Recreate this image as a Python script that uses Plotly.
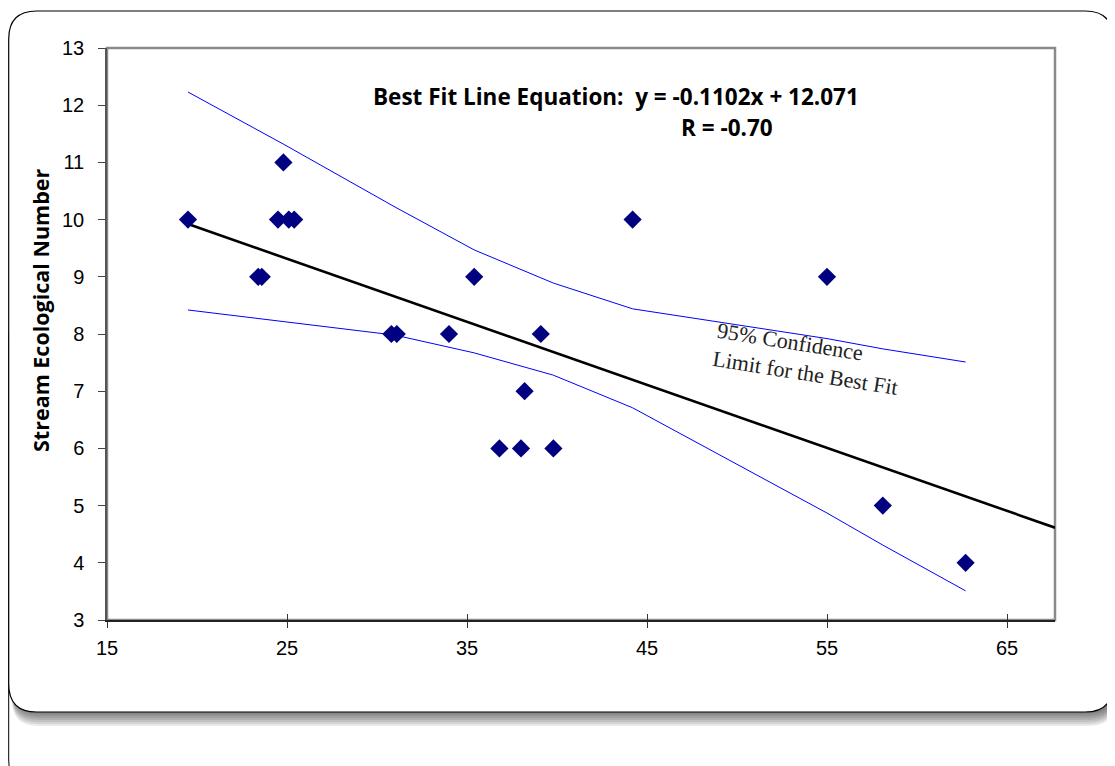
import plotly.graph_objects as go

# ---- data ----
x_vals = [19.5, 23.4, 23.6, 24.8, 24.5, 25.1, 25.4, 30.8, 31.1, 34.0,
          35.4, 36.8, 38.0, 38.2, 39.1, 39.8, 44.2, 55.0, 58.1, 62.7]
y_vals = [10, 9, 9, 11, 10, 10, 10, 8, 8, 8,
          9, 6, 6, 7, 8, 6, 10, 9, 5, 4]

fit_slope = -0.1102
fit_intercept = 12.071
fit_x = [19.5, 67.67]
fit_y = [fit_slope * v + fit_intercept for v in fit_x]

band_x = [19.5, 24.8, 31.0, 35.4, 39.8, 44.2, 55.0, 58.1, 62.7]
band_upper = [12.23, 11.32, 10.22, 9.47, 8.89, 8.44, 7.92, 7.74, 7.51]
band_lower = [8.42, 8.22, 7.98, 7.67, 7.28, 6.71, 4.87, 4.31, 3.51]

x_ticks = [15, 25, 35, 45, 55, 65]
y_ticks = [3, 4, 5, 6, 7, 8, 9, 10, 11, 12, 13]

# ---- layout geometry (page pixels; the page body has an 8px margin) ----
PAGE_W, PAGE_H = 1115, 766
OFF = 8
W, H = PAGE_W - OFF, PAGE_H - OFF
L, R, T, B = 107, 1055, 48, 620


def px(x):
    return (x - L) / (R - L)


def py(y):
    return (B - y) / (B - T)


def rr(x0, y0, x1, y1, r):
    pts = [
        ("M", [(x0 + r, y0)]), ("L", [(x1 - r, y0)]), ("Q", [(x1, y0), (x1, y0 + r)]),
        ("L", [(x1, y1 - r)]), ("Q", [(x1, y1), (x1 - r, y1)]),
        ("L", [(x0 + r, y1)]), ("Q", [(x0, y1), (x0, y1 - r)]),
        ("L", [(x0, y0 + r)]), ("Q", [(x0, y0), (x0 + r, y0)]),
    ]
    s = ""
    for cmd, ps in pts:
        s += cmd + " " + " ".join(f"{px(a):.5f},{py(b):.5f}" for a, b in ps) + " "
    return s + "Z"


shapes = []
# slide frame behind
shapes.append(dict(type="path", xref="paper", yref="paper", layer="below",
                   path=rr(8.7, 300, 1160, 800, 40),
                   line=dict(color="black", width=1), fillcolor="white"))
# shadow
for k in range(2, 15, 2):
    shapes.append(dict(type="path", xref="paper", yref="paper", layer="below",
                       path=rr(12, 30, 1115, 712 + k, 26),
                       line=dict(width=0), fillcolor="rgba(0,0,0,0.085)"))
# chart box
shapes.append(dict(type="path", xref="paper", yref="paper", layer="below",
                   path=rr(8.7, 11, 1113, 712, 28),
                   line=dict(color="black", width=1.2), fillcolor="white"))
# plot area border
shapes.append(dict(type="rect", xref="paper", yref="paper", layer="below",
                   x0=0, x1=1, y0=0, y1=1,
                   line=dict(color="#8a8a8a", width=2.5), fillcolor="white"))

fig = go.Figure()

fig.add_trace(go.Scatter(x=band_x, y=band_upper, mode="lines",
                         line=dict(color="#0000FF", width=1), showlegend=False,
                         hoverinfo="skip"))
fig.add_trace(go.Scatter(x=band_x, y=band_lower, mode="lines",
                         line=dict(color="#0000FF", width=1), showlegend=False,
                         hoverinfo="skip"))
fig.add_trace(go.Scatter(x=fit_x, y=fit_y, mode="lines",
                         line=dict(color="black", width=2.6), showlegend=False))
fig.add_trace(go.Scatter(x=x_vals, y=y_vals, mode="markers",
                         marker=dict(symbol="diamond", size=14, color="#000080",
                                     line=dict(width=0)),
                         showlegend=False))
# helper trace for the inner half of the x ticks
fig.add_trace(go.Scatter(x=[15], y=[3], xaxis="x2", mode="markers",
                         marker=dict(opacity=0), showlegend=False, hoverinfo="skip"))

tick_font = dict(family="Liberation Sans, Arial, sans-serif", size=20, color="black")
eq_font = dict(family="Open Sans, sans-serif", size=22.5, color="black")
title_font = dict(family="Open Sans, sans-serif", size=21.5, color="black")

fig.update_layout(
    width=W, height=H,
    margin=dict(l=L - OFF, r=PAGE_W - R, t=T - OFF, b=PAGE_H - B),
    paper_bgcolor="white",
    plot_bgcolor="rgba(0,0,0,0)",
    shapes=shapes,
    xaxis=dict(range=[15, 15 + (R - L) / 18.0], tickvals=x_ticks,
               ticks="outside", ticklen=6, tickwidth=1, tickcolor="#333",
               showgrid=False, zeroline=False, showline=True,
               linecolor="#222", linewidth=2, tickfont=tick_font,
               ticklabelstandoff=3),
    xaxis2=dict(range=[15, 15 + (R - L) / 18.0], overlaying="x", side="bottom",
                tickvals=x_ticks, ticks="inside", ticklen=6, tickwidth=1,
                tickcolor="#333", showticklabels=False, showgrid=False,
                zeroline=False, showline=False),
    yaxis=dict(range=[3, 13], tickvals=y_ticks,
               ticks="outside", ticklen=7, tickwidth=1, tickcolor="#444",
               showgrid=False, zeroline=False, showline=True,
               linecolor="#555", linewidth=1.5, tickfont=tick_font,
               ticklabelstandoff=10),
    annotations=[
        dict(xref="paper", yref="paper", x=px(40), y=py(310),
             text="<b>Stream Ecological Number</b>", showarrow=False,
             textangle=-90, xanchor="center", yanchor="middle", font=title_font),
        dict(xref="paper", yref="paper", x=px(371), y=py(97),
             text="<b>Best Fit Line Equation:  y = -0.1102x + 12.071</b>",
             showarrow=False, xanchor="left", yanchor="middle", font=eq_font),
        dict(xref="paper", yref="paper", x=px(679), y=py(127),
             text="<b>R = -0.70</b>",
             showarrow=False, xanchor="left", yanchor="middle", font=eq_font),
        dict(xref="paper", yref="paper", x=px(807), y=py(359),
             text="95% Confidence<br>Limit for the Best Fit",
             showarrow=False, xanchor="center", yanchor="middle", align="left",
             textangle=9,
             font=dict(family="Liberation Serif, serif", size=22, color="#222")),
    ],
)

fig.write_html("out.html")
